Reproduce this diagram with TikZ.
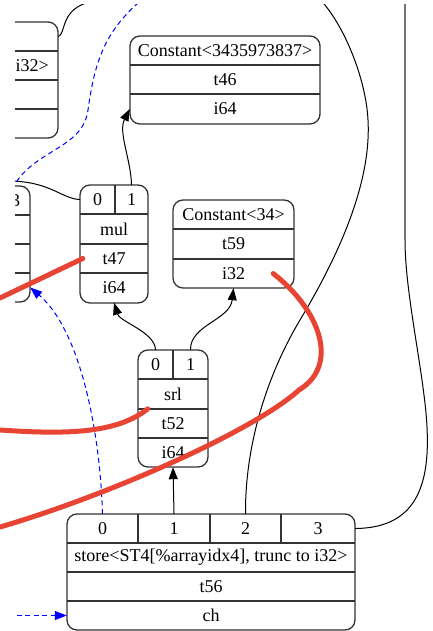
\documentclass[tikz,border=0pt]{standalone}
\usepackage{fontspec}
\setmainfont{Liberation Serif}
\usetikzlibrary{arrows.meta}
\definecolor{hlred}{RGB}{232,68,52}
\tikzset{
  cell/.style={inner sep=0pt, minimum height=29pt, font=\fontsize{18}{20}\selectfont},
  rec/.style={draw=black!80, line width=1.3pt, rounded corners=10pt},
  rowline/.style={draw=black!80, line width=1.2pt},
  dep/.style={line width=1pt},
  chain/.style={blue, line width=1pt, dash pattern=on 5pt off 3.5pt},
  hl/.style={hlred, line width=5pt, line cap=round},
}
\begin{document}
\begin{tikzpicture}[x=1pt, y=-1pt, >={Triangle[length=12pt,width=9pt]}]
\useasboundingbox[fill=white] (0,0) rectangle (432,631);
\coordinate (lfin) at (8,181);
\coordinate (bltop) at (145,-3);
\coordinate (blleft) at (12,190);
\coordinate (blin) at (8,615.5);
\coordinate (topout) at (318,-3);
\coordinate (rbend) at (405,240);
\coordinate (rtop) at (405,-3);
\coordinate (r1) at (0,298);
\coordinate (r2) at (0,430);
\coordinate (r3) at (0,527);

\begin{scope}
\clip (15,5) rectangle (432,631);
% records
\draw[rec] (-100,22) rectangle (58,138);
\draw[rowline] (-100,51) -- (58,51) (-100,80) -- (58,80) (-100,109) -- (58,109);
\node[cell, minimum width=158pt] (tltop) at (-21,36.5) {};
\node[cell, anchor=east] (tlty) at (49,65.5) {i32>};

\draw[rec] (-100,186) rectangle (30,302);
\draw[rowline] (-100,215) -- (30,215) (-100,244) -- (30,244) (-100,273) -- (30,273);
\node[cell] (lfid) at (15.5,200.5) {3};
\node[cell, minimum width=60pt] (lfty) at (0,287.5) {};

\draw[rec] (130,36) rectangle (320,124);
\draw[rowline] (130,65) -- (320,65) (130,94) -- (320,94);
\node[cell] (cbig) at (225,50.5) {Constant<3435973837>};
\node[cell] (cbigtn) at (225,79.5) {t46};
\node[cell, minimum width=190pt] (cbigty) at (225,109) {i64};

\draw[rec] (80,185) rectangle (148,303);
\draw[rowline] (115,185) -- (115,214) (80,214) -- (148,214) (80,244) -- (148,244) (80,273) -- (148,273);
\node[cell, minimum width=35pt] (mulp0) at (97.5,199.5) {0};
\node[cell, minimum width=33pt] (mulp1) at (131.5,199.5) {1};
\node[cell] (mulop) at (114,229) {mul};
\node[cell, minimum width=68pt] (multn) at (114,258.5) {t47};
\node[cell, minimum width=68pt] (multy) at (114,288) {i64};

\draw[rec] (173,200) rectangle (294,288);
\draw[rowline] (173,229) -- (294,229) (173,259) -- (294,259);
\node[cell] (c34) at (233.5,214.5) {Constant<34>};
\node[cell] (c34tn) at (233.5,244) {t59};
\node[cell, minimum width=121pt] (c34ty) at (233.5,273.5) {i32};

\draw[rec] (138,350) rectangle (208,467);
\draw[rowline] (173,350) -- (173,379) (138,379) -- (208,379) (138,409) -- (208,409) (138,438) -- (208,438);
\node[cell, minimum width=35pt] (srlp0) at (155.5,364.5) {0};
\node[cell, minimum width=35pt] (srlp1) at (190.5,364.5) {1};
\node[cell] (srlop) at (173,394) {srl};
\node[cell, minimum width=70pt] (srltn) at (173,423.5) {t52};
\node[cell, minimum width=70pt] (srlty) at (173,452.5) {i64};

\draw[rec] (67,514) rectangle (355,630);
\draw[rowline] (138,514) -- (138,543) (210,514) -- (210,543) (281,514) -- (281,543);
\draw[rowline] (67,543) -- (355,543) (67,572) -- (355,572) (67,601) -- (355,601);
\node[cell, minimum width=71pt] (stp0) at (102.5,528.5) {0};
\node[cell, minimum width=72pt] (stp1) at (174,528.5) {1};
\node[cell, minimum width=71pt] (stp2) at (245.5,528.5) {2};
\node[cell, minimum width=74pt] (stp3) at (318,528.5) {3};
\node[cell] (stop) at (211,557.5) {store<ST4[\%arrayidx4], trunc to i32>};
\node[cell] (sttn) at (211,586.5) {t56};
\node[cell, minimum width=288pt] (stch) at (211,615.5) {ch};

% edges
\draw[dep] (tltop.east) .. controls (66,34) and (60,12) .. (86,3);
\draw[dep,->] (mulp1.north) .. controls (131,160) and (118,132) .. (cbigty.west);
\draw[dep] (mulp0.west) .. controls (62,199) and (50,181) .. (lfin);
\draw[dep,->] (srlp0.north) .. controls (155,332) and (120,322) .. (multy.south);
\draw[dep,->] (srlp1.north) .. controls (190,325) and (230,320) .. (c34ty.south);
\draw[dep,->] (stp1.north) -- (srlty.south);
\draw[dep] (stp2.north) .. controls (245,440) and (270,370) .. (300,320)
  .. controls (330,270) and (372,190) .. (368,120)
  .. controls (366,80) and (345,25) .. (topout);
\draw[dep] (stp3.east) .. controls (420,528) and (432,480) .. (426,413)
  .. controls (421,360) and (405,290) .. (rbend);
\draw[dep, black!55, line width=1.2pt] (rbend) -- (rtop);

\draw[chain] (bltop) .. controls (105,30) and (95,60) .. (88,110)
  .. controls (83,150) and (30,150) .. (blleft);
\draw[chain,->] (stp0.north) .. controls (100,430) and (80,330) .. (lfty.east);
\draw[chain,->] (blin) -- (stch.west);
\end{scope}

\draw[hl] (r1) -- ([xshift=3pt]multn.west);
\draw[hl] (r2) .. controls (60,434) and (115,435) .. ([xshift=10pt]srltn.north west);
\draw[hl] ([xshift=-21pt]c34ty.east) .. controls (320,310) and (340,365) .. (299,390)
  .. controls (255,430) and (110,495) .. (r3);
\end{tikzpicture}
\end{document}
